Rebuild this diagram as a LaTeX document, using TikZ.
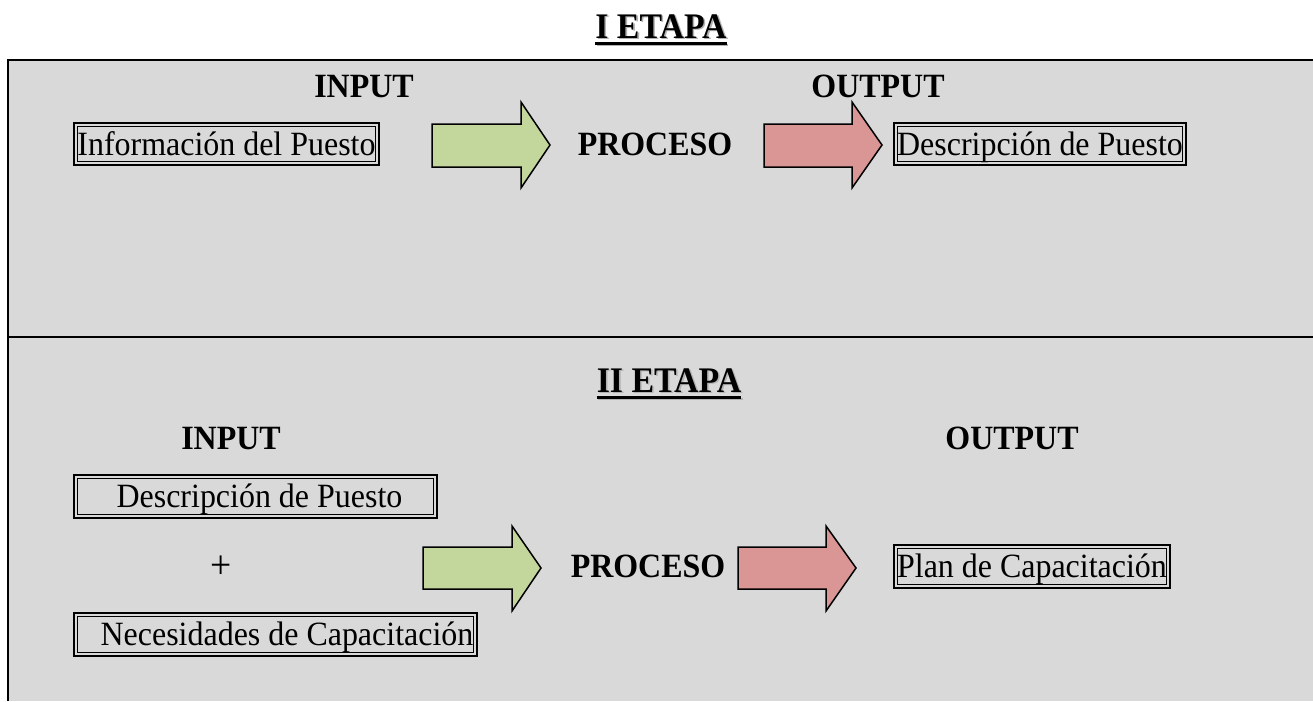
\documentclass[tikz,border=0pt]{standalone}
\usepackage{fontspec}
\setmainfont{Liberation Serif}[FakeStretch=0.94]
\newcommand\ulword[1]{\setbox0\hbox{#1}\rlap{\rule[-6.5pt]{\wd0}{2.2pt}}\box0}
\newcommand\shadowtitle[1]{\rlap{\kern1.6pt\raisebox{-1.6pt}{\color{black!30}\ulword{#1}}}\ulword{#1}}
\definecolor{panel}{RGB}{217,217,217}
\definecolor{arrgreen}{RGB}{195,214,155}
\definecolor{arrred}{RGB}{217,150,148}
\tikzset{
  head/.style={font=\fontsize{34}{40}\selectfont\bfseries, anchor=base, inner sep=0},
  title/.style={font=\fontsize{36}{42}\selectfont\bfseries, anchor=base, inner sep=0},
  plain/.style={font=\fontsize{40}{46}\selectfont, inner sep=0},
  dbox/.style={draw, line width=2.4pt, inner sep=0, outer sep=0,
    font=\fontsize{34}{40}\selectfont, text height=23pt, text depth=1pt},
  blockarrow/.style={draw, line width=1.5pt, line join=miter},
}
\newcommand\innerframe[1]{\draw[line width=0.9pt] ([shift={(3.2,3.2)}]#1.north west) rectangle ([shift={(-3.2,-3.2)}]#1.south east);}
\begin{document}
\begin{tikzpicture}[x=1pt,y=-1pt]
\useasboundingbox (0,0) rectangle (1313,701);
% panel
\fill[panel] (8,60) rectangle (1313,701);
\draw[line width=1.8pt] (1313,60) -- (8,60) -- (8,701);
\draw[line width=1.8pt] (8,337) -- (1313,337);

% ---------- I ETAPA ----------
\node[title] (t1) at (661,38) {\shadowtitle{I ETAPA}};
\node[head] (in1) at (364,97) {INPUT};
\node[head] (out1) at (878,97) {OUTPUT};
\node[dbox, minimum width=305, minimum height=42] (b1) at (226.5,144) {Información del Puesto};
\innerframe{b1}
\draw[blockarrow, fill=arrgreen] (432,124) -- (521,124) -- (521,102) -- (550,145) -- (521,188) -- (521,167) -- (432,167) -- cycle;
\node[head] (p1) at (655,155) {PROCESO};
\draw[blockarrow, fill=arrred] (764,124) -- (852,124) -- (852,102) -- (882,145) -- (852,188) -- (852,167) -- (764,167) -- cycle;
\node[dbox, minimum width=292, minimum height=42] (b2) at (1040,144) {Descripción de Puesto};
\innerframe{b2}

% ---------- II ETAPA ----------
\node[title] (t2) at (669,392) {\shadowtitle{II ETAPA}};
\node[head] (in2) at (231,449) {INPUT};
\node[head] (out2) at (1012,449) {OUTPUT};
\node[dbox, minimum width=363, minimum height=43] (b3) at (255.5,496.5) {\hspace*{8pt}Descripción de Puesto};
\innerframe{b3}
\node[plain] (plus) at (221.5,567.5) {+};
\node[dbox, minimum width=403, minimum height=43] (b4) at (275.5,634.5) {\hspace*{23pt}Necesidades de Capacitación};
\innerframe{b4}
\draw[blockarrow, fill=arrgreen] (423,547) -- (512,547) -- (512,526) -- (541,568) -- (512,611) -- (512,589) -- (423,589) -- cycle;
\node[head] (p2) at (648,577) {PROCESO};
\draw[blockarrow, fill=arrred] (738,547) -- (826,547) -- (826,526) -- (856,568) -- (826,611) -- (826,589) -- (738,589) -- cycle;
\node[dbox, minimum width=276, minimum height=43] (b5) at (1032,566.5) {Plan de Capacitación};
\innerframe{b5}
\end{tikzpicture}
\end{document}
